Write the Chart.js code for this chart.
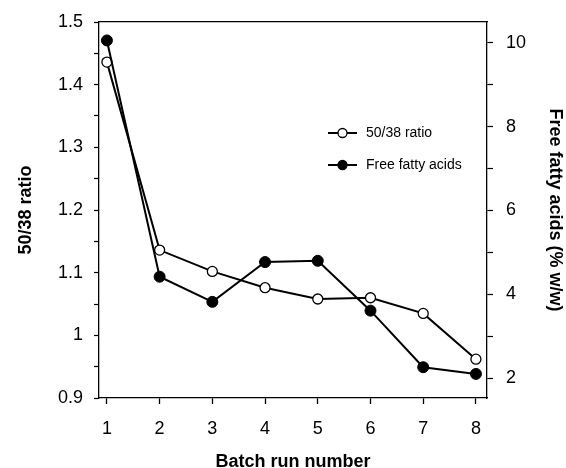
<!DOCTYPE html>
<html><head><meta charset="utf-8">
<script src="https://cdn.jsdelivr.net/npm/chart.js@4.4.0/dist/chart.umd.min.js"></script>
<style>html,body{margin:0;padding:0;background:#fff}#wrap{width:566px;height:468px}</style>
</head><body><div id="wrap"><canvas id="c" width="566" height="468"></canvas></div>
<script>
const batchRuns = [1, 2, 3, 4, 5, 6, 7, 8];
const ratio5038 = [1.436, 1.136, 1.102, 1.076, 1.058, 1.060, 1.035, 0.962];
const freeFattyAcids = [10.06, 4.42, 3.82, 4.77, 4.80, 3.61, 2.26, 2.10];
const xTickValues = [1, 2, 3, 4, 5, 6, 7, 8];
const leftTickValues = [0.9, 0.95, 1.0, 1.05, 1.1, 1.15, 1.2, 1.25, 1.3, 1.35, 1.4, 1.45, 1.5];
const leftTickLabels = ['0.9', '', '1', '', '1.1', '', '1.2', '', '1.3', '', '1.4', '', '1.5'];
const rightTickValues = [2, 3, 4, 5, 6, 7, 8, 9, 10];
const rightTickLabels = ['2', '', '4', '', '6', '', '8', '', '10'];
const seriesNames = ['50/38 ratio', 'Free fatty acids'];
const xTitle = 'Batch run number';
const leftTitle = '50/38 ratio';
const rightTitle = 'Free fatty acids (% w/w)';

const FONT = "'Liberation Sans', Arial, sans-serif";

function labelFor(values, labels, v) {
  for (let i = 0; i < values.length; i++) if (Math.abs(values[i] - v) < 1e-6) return labels[i];
  return '';
}

const legendPlugin = {
  id: 'customLegend',
  afterDraw(chart) {
    const ctx = chart.ctx;
    const items = [
      { y: 133, ds: chart.data.datasets[0] },
      { y: 165, ds: chart.data.datasets[1] }
    ];
    ctx.save();
    items.forEach(it => {
      ctx.strokeStyle = '#000';
      ctx.lineWidth = 2;
      ctx.beginPath();
      ctx.moveTo(328, it.y);
      ctx.lineTo(357, it.y);
      ctx.stroke();
      ctx.beginPath();
      ctx.arc(342.5, it.y, 4.5, 0, Math.PI * 2);
      ctx.fillStyle = it.ds.pointBackgroundColor;
      ctx.fill();
      ctx.lineWidth = 1.3;
      ctx.stroke();
      ctx.fillStyle = '#000';
      ctx.font = '14px ' + FONT;
      ctx.textBaseline = 'middle';
      ctx.textAlign = 'left';
      ctx.fillText(it.ds.label, 366, it.y);
    });
    ctx.restore();
  }
};

new Chart(document.getElementById('c'), {
  type: 'line',
  data: {
    datasets: [
      {
        label: seriesNames[0],
        data: batchRuns.map((x, i) => ({ x: x, y: ratio5038[i] })),
        yAxisID: 'y',
        borderColor: '#000',
        borderWidth: 2,
        pointRadius: 5,
        pointBorderWidth: 1.3,
        pointBackgroundColor: '#fff',
        pointBorderColor: '#000',
        tension: 0,
        order: 2
      },
      {
        label: seriesNames[1],
        data: batchRuns.map((x, i) => ({ x: x, y: freeFattyAcids[i] })),
        yAxisID: 'y1',
        borderColor: '#000',
        borderWidth: 2,
        pointRadius: 5.5,
        pointBorderWidth: 1,
        pointBackgroundColor: '#000',
        pointBorderColor: '#000',
        tension: 0,
        order: 1
      }
    ]
  },
  options: {
    responsive: false,
    animation: false,
    devicePixelRatio: 1,
    clip: false,
    layout: { padding: 0 },
    plugins: { legend: { display: false }, tooltip: { enabled: false } },
    scales: {
      x: {
        type: 'linear', position: 'bottom', min: 0.85, max: 8.21,
        afterBuildTicks: s => { s.ticks = xTickValues.map(v => ({ value: v })); },
        afterFit: s => { s.height = 70; },
        ticks: { color: '#000', font: { family: FONT, size: 18, lineHeight: 1 }, padding: 16, maxRotation: 0,
          callback: v => String(v) },
        grid: { drawOnChartArea: false, drawTicks: true, tickLength: 6, color: '#000', tickWidth: 1.3 },
        border: { display: true, color: '#000', width: 1.3 },
        title: { display: true, text: xTitle, color: '#000', font: { family: FONT, size: 18, weight: 'bold' }, padding: { top: 0, bottom: -5 } }
      },
      xTop: {
        type: 'linear', position: 'top', min: 0.85, max: 8.21,
        afterFit: s => { s.height = 20; },
        ticks: { display: false },
        grid: { drawOnChartArea: false, drawTicks: false },
        border: { display: true, color: '#000', width: 1.3 }
      },
      y: {
        type: 'linear', position: 'left', min: 0.9, max: 1.5,
        afterBuildTicks: s => { s.ticks = leftTickValues.map(v => ({ value: v })); },
        afterFit: s => { s.width = 99; },
        ticks: { color: '#000', font: { family: FONT, size: 18, lineHeight: 1 }, padding: 11,
          callback: v => labelFor(leftTickValues, leftTickLabels, v) },
        grid: { drawOnChartArea: false, drawTicks: true, tickLength: 5, color: '#000', tickWidth: 1.2 },
        border: { display: true, color: '#000', width: 1.3 },
        title: { display: true, text: leftTitle, color: '#000', font: { family: FONT, size: 18, weight: 'bold' }, padding: { top: 15, bottom: 0 } }
      },
      y1: {
        type: 'linear', position: 'right', min: 1.525, max: 10.5,
        afterBuildTicks: s => { s.ticks = rightTickValues.map(v => ({ value: v })); },
        afterFit: s => { s.width = 79; },
        ticks: { color: '#000', font: { family: FONT, size: 18, lineHeight: 1 }, padding: 13,
          callback: v => labelFor(rightTickValues, rightTickLabels, v) },
        grid: { drawOnChartArea: false, drawTicks: true, tickLength: 6, color: '#000', tickWidth: 1.2 },
        border: { display: true, color: '#000', width: 1.3 },
        title: { display: true, text: rightTitle, color: '#000', font: { family: FONT, size: 18, weight: 'bold' }, padding: { top: 0, bottom: 0 } }
      }
    }
  },
  plugins: [legendPlugin]
});
</script></body></html>
